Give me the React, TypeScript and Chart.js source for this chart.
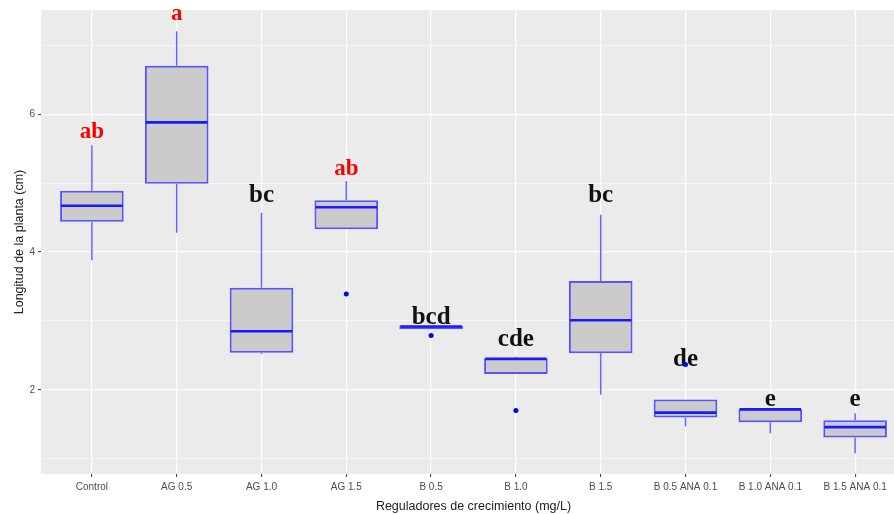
import React, { useEffect, useRef } from "react";
import { Chart, registerables } from "chart.js";

Chart.register(...registerables);

const categories = [
  "Control",
  "AG 0.5",
  "AG 1.0",
  "AG 1.5",
  "B 0.5",
  "B 1.0",
  "B 1.5",
  "B 0.5 ANA 0.1",
  "B 1.0 ANA 0.1",
  "B 1.5 ANA 0.1",
];
const whiskerLow = [3.88, 4.28, 2.52, 4.33, 2.88, 2.23, 1.93, 1.47, 1.37, 1.08];
const q1 = [4.44, 4.99, 2.54, 4.33, 2.88, 2.23, 2.53, 1.6, 1.53, 1.31];
const median = [4.67, 5.88, 2.85, 4.65, 2.92, 2.45, 3.01, 1.67, 1.72, 1.46];
const q3 = [4.89, 6.7, 3.48, 4.75, 2.93, 2.46, 3.58, 1.86, 1.72, 1.56];
const whiskerHigh = [5.55, 7.2, 4.57, 5.03, 2.93, 2.48, 4.54, 1.86, 1.72, 1.66];
const outlierX = [3, 4, 5, 7];
const outlierY = [3.39, 2.79, 1.7, 2.37];
const letters = ["ab", "a", "bc", "ab", "bcd", "cde", "bc", "de", "e", "e"];
const letterY = [5.66, 7.36, 4.72, 5.11, 2.95, 2.63, 4.73, 2.35, 1.76, 1.76];
const letterRed = [true, true, false, true, false, false, false, false, false, false];
const yTickValues = [1, 2, 3, 4, 5, 6, 7];

const PANEL_BG = "#ebebeb";
const BOX_BORDER = "#5555ff";
const WHISKER = "#6666ff";
const MEDIAN = "#1a1aff";

const boxPlugin = {
  id: "boxExtras",
  beforeDraw(chart: any) {
    const { ctx, chartArea } = chart;
    ctx.save();
    ctx.fillStyle = PANEL_BG;
    ctx.fillRect(chartArea.left, chartArea.top, chartArea.right - chartArea.left, chartArea.bottom - chartArea.top);
    ctx.restore();
  },
  beforeDatasetsDraw(chart: any) {
    const { ctx } = chart;
    const xs = chart.scales.x;
    const ys = chart.scales.y;
    ctx.save();
    ctx.strokeStyle = WHISKER;
    ctx.lineWidth = 1.5;
    categories.forEach((_, i) => {
      const x = xs.getPixelForValue(i);
      ctx.beginPath();
      ctx.moveTo(x, ys.getPixelForValue(whiskerHigh[i]));
      ctx.lineTo(x, ys.getPixelForValue(q3[i]));
      ctx.moveTo(x, ys.getPixelForValue(q1[i]));
      ctx.lineTo(x, ys.getPixelForValue(whiskerLow[i]));
      ctx.stroke();
    });
    ctx.textAlign = "center";
    ctx.textBaseline = "alphabetic";
    letters.forEach((t, i) => {
      ctx.font = letterRed[i]
        ? "bold 23px 'Liberation Serif', 'DejaVu Serif', serif"
        : "bold 25px 'Liberation Serif', 'DejaVu Serif', serif";
      ctx.fillStyle = letterRed[i] ? "#ff0000" : "#111111";
      ctx.fillText(t, xs.getPixelForValue(i), ys.getPixelForValue(letterY[i]));
    });
    ctx.restore();
  },
  afterDatasetsDraw(chart: any) {
    const { ctx } = chart;
    const xs = chart.scales.x;
    const ys = chart.scales.y;
    const half = (xs.getPixelForValue(1) - xs.getPixelForValue(0)) * 0.375;
    ctx.save();
    ctx.strokeStyle = MEDIAN;
    ctx.lineWidth = 2.6;
    categories.forEach((_, i) => {
      const x = xs.getPixelForValue(i);
      const y = ys.getPixelForValue(median[i]);
      ctx.beginPath();
      ctx.moveTo(x - half + 1, y);
      ctx.lineTo(x + half - 1, y);
      ctx.stroke();
    });
    ctx.restore();
  },
};

export default function App() {
  const ref = useRef<HTMLCanvasElement>(null);

  useEffect(() => {
    if (!ref.current) return;
    const chart = new Chart(ref.current, {
      type: "bar",
      data: {
        datasets: [
          {
            type: "bar",
            data: categories.map((_, i) => ({ x: i, y: [q1[i], q3[i]] })) as any,
            backgroundColor: "#cbcbcb",
            borderColor: BOX_BORDER,
            borderWidth: 2,
            borderSkipped: false,
            barPercentage: 0.75,
            categoryPercentage: 1,
          },
          {
            type: "scatter",
            data: outlierX.map((x, i) => ({ x, y: outlierY[i] })) as any,
            backgroundColor: "#0000ff",
            borderColor: "#0000ff",
            pointRadius: 2.5,
            borderWidth: 0,
          },
        ],
      },
      options: {
        animation: false,
        responsive: false,
        events: [],
        layout: { padding: { top: 10, right: 14, left: 0, bottom: 0 } },
        plugins: { legend: { display: false }, tooltip: { enabled: false } },
        scales: {
          x: {
            type: "linear",
            min: -0.6,
            max: 9.6,
            offset: false,
            afterBuildTicks: (s: any) => {
              s.ticks = categories.map((_, i) => ({ value: i }));
            },
            afterFit: (s: any) => {
              s.height = 40;
            },
            border: { display: false },
            grid: {
              offset: false,
              color: "#ffffff",
              lineWidth: 1.2,
              drawTicks: true,
              tickLength: 3,
              tickColor: "#333333",
              tickWidth: 1,
            },
            ticks: {
              autoSkip: false,
              maxRotation: 0,
              padding: 4,
              color: "#4d4d4d",
              font: { family: "'Liberation Sans', Arial, sans-serif", size: 10 },
              callback: (v: any) => categories[v as number] ?? "",
            },
            title: {
              display: true,
              text: "Reguladores de crecimiento (mg/L)",
              color: "#222222",
              font: { family: "'Liberation Sans', Arial, sans-serif", size: 12.5 },
              padding: { top: 0, bottom: 0 },
            },
          },
          y: {
            type: "linear",
            min: 0.78,
            max: 7.51,
            afterBuildTicks: (s: any) => {
              s.ticks = yTickValues.map((v) => ({ value: v }));
            },
            afterFit: (s: any) => {
              s.width = 41;
            },
            border: { display: false },
            grid: {
              color: "#ffffff",
              lineWidth: (c: any) => (c.tick && c.tick.value % 2 === 0 ? 1.2 : 0.6),
              drawTicks: true,
              tickLength: 3,
              tickColor: (c: any) => (c.tick && c.tick.value % 2 === 0 ? "#333333" : "rgba(0,0,0,0)"),
              tickWidth: 1,
            },
            ticks: {
              padding: 3,
              color: "#4d4d4d",
              font: { family: "'Liberation Sans', Arial, sans-serif", size: 10 },
              callback: (v: any) => ((v as number) % 2 === 0 ? String(v) : ""),
            },
            title: {
              display: true,
              text: "Longitud de la planta (cm)",
              color: "#222222",
              font: { family: "'Liberation Sans', Arial, sans-serif", size: 12.5 },
              padding: { top: 12, bottom: 0 },
            },
          },
        },
      },
      plugins: [boxPlugin],
    });
    return () => chart.destroy();
  }, []);

  return (
    <div
      style={{
        position: "fixed",
        left: 0,
        top: 0,
        width: 894,
        height: 514,
        overflow: "hidden",
        background: "#ffffff",
      }}
    >
      <canvas ref={ref} width={920} height={514} style={{ width: 920, height: 514, display: "block" }} />
    </div>
  );
}
